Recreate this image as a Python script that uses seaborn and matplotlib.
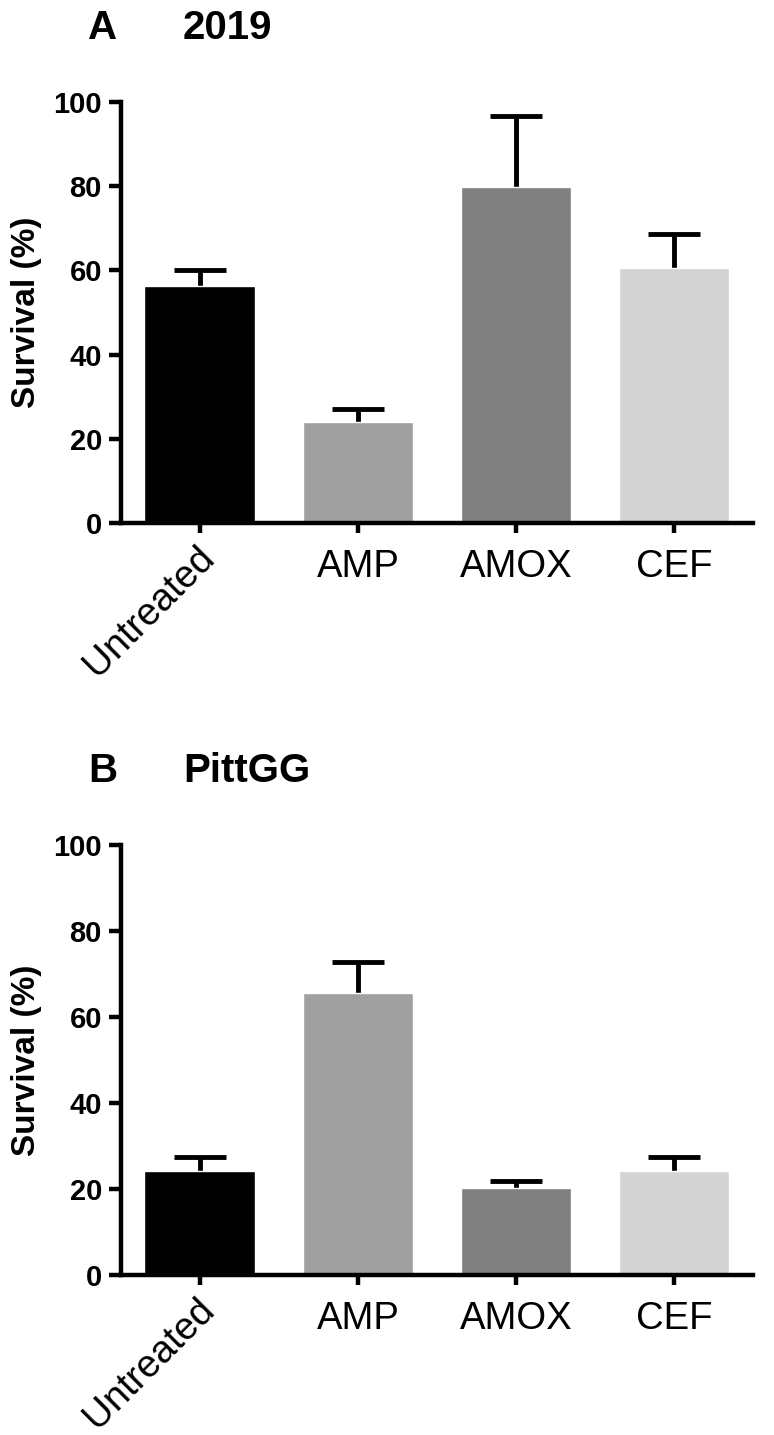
import seaborn as sns
import matplotlib.pyplot as plt
import matplotlib.transforms as mtransforms
import pandas as pd

treatments = ['Untreated', 'AMP', 'AMOX', 'CEF']
colors = ['#000000', '#a0a0a0', '#808080', '#d3d3d3']

# panel A (2019)
mean_2019 = [56.2, 24.0, 79.8, 60.5]
err_2019 = [3.8, 3.2, 16.8, 8.1]

# panel B (PittGG)
mean_pitt = [24.3, 65.7, 20.3, 24.3]
err_pitt = [3.1, 7.2, 1.6, 3.2]

sns.set_style('ticks', {'axes.edgecolor': 'black', 'text.color': 'black',
                        'xtick.color': 'black', 'ytick.color': 'black',
                        'axes.labelcolor': 'black'})
plt.rcParams['font.family'] = ['Liberation Sans', 'DejaVu Sans']

fig = plt.figure(figsize=(7.74, 14.35), dpi=100)
ax_a = fig.add_axes([0.156, 0.6355, 0.817, 0.2934])
ax_b = fig.add_axes([0.156, 0.1115, 0.817, 0.2996])


def panel(ax, means, errs):
    df = pd.DataFrame({'treatment': treatments, 'survival': means})
    sns.barplot(data=df, x='treatment', y='survival', hue='treatment',
                palette=colors, width=0.7, saturation=1, legend=False,
                ax=ax, zorder=2)
    eb = ax.errorbar(range(len(means)), means, yerr=[[0] * len(errs), errs],
                     fmt='none', ecolor='black', elinewidth=3.5, capsize=19,
                     capthick=3.5, zorder=1)
    # only the upper cap, like a one-sided SEM bar
    eb[1][0].set_visible(False)
    ax.set_ylim(0, 100)
    ax.set_xlim(-0.5, 3.5)
    ax.set_yticks([0, 20, 40, 60, 80, 100])
    ax.set_xlabel('')
    ax.set_ylabel('Survival (%)', fontsize=24, fontweight='bold', color='black')
    sns.despine(ax=ax)
    for s in ['left', 'bottom']:
        ax.spines[s].set_linewidth(3.2)
        ax.spines[s].set_color('black')
    ax.tick_params(axis='y', length=8.5, width=3.2, pad=5, labelsize=21, colors='black')
    ax.tick_params(axis='x', length=7, width=3.2, pad=12, labelsize=27.5, colors='black')
    for lbl in ax.get_yticklabels():
        lbl.set_fontweight('bold')
    first = ax.get_xticklabels()[0]
    first.set_rotation(45)
    first.set_ha('right')
    first.set_va('center')
    first.set_rotation_mode('anchor')
    first.set_transform(first.get_transform() +
                        mtransforms.ScaledTranslation(0.09, -0.03, fig.dpi_scale_trans))


panel(ax_a, mean_2019, err_2019)
panel(ax_b, mean_pitt, err_pitt)
ax_a.yaxis.set_label_coords(-0.124, 0.5)
ax_b.yaxis.set_label_coords(-0.124, 0.5)

fig.text(0.1137, 1 - 39 / 1435, 'A', fontsize=29, fontweight='bold')
fig.text(0.2365, 1 - 39 / 1435, '2019', fontsize=29, fontweight='bold')
fig.text(0.1137, 1 - 782 / 1435, 'B', fontsize=29, fontweight='bold')
fig.text(0.2365, 1 - 782 / 1435, 'PittGG', fontsize=29, fontweight='bold')

fig.savefig('out.png', dpi=100)
